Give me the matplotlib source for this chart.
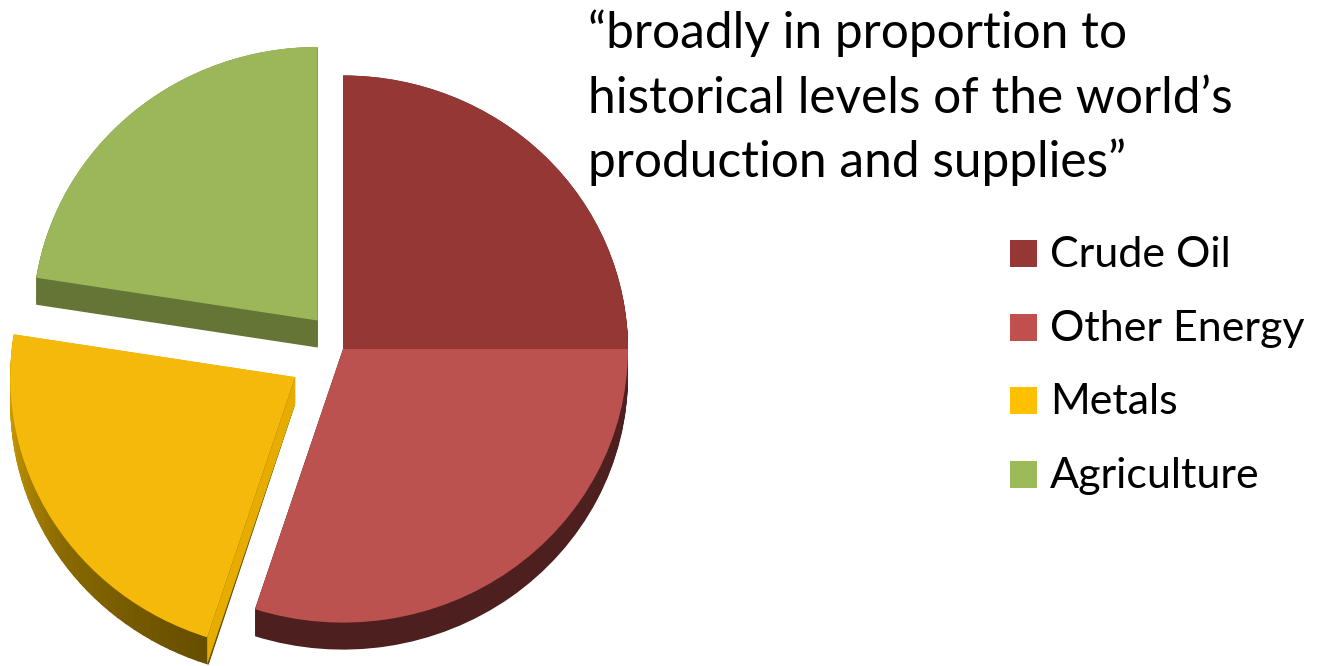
import matplotlib
matplotlib.use('Agg')
import matplotlib.pyplot as plt
import matplotlib.patches as mpatches
import matplotlib.colors as mcolors
import numpy as np

# ---- data ----
categories = ['Crude Oil', 'Other Energy', 'Metals', 'Agriculture']
weights = [25.0, 30.0, 22.5, 22.5]
explode_px = [0, 0, 56, 39]

top_colors = ['#953735', '#BB524F', '#F4B90A', '#9BB75A']
side_colors = ['#5A2120', '#4D1F1F', None, '#647536']
legend_colors = ['#953735', '#C0504D', '#FFC000', '#9BBB59']

title_lines = ['\u201cbroadly in proportion to',
               'historical levels of the world\u2019s',
               'production and supplies\u201d']

# ---- layout (pixels) ----
W, H = 1318, 666
YS = 0.96            # vertical squash of the pie
CX, CY = 343, 349    # pie centre (image px, from top)
R = 285
DEPTH = 27
FONT = ['Lato', 'DejaVu Sans']

fig = plt.figure(figsize=(W / 100, H / 100), dpi=100)
ax = fig.add_axes([0, 0, 1, 1])

cy_data = (H - CY) / YS
wedges, _ = ax.pie(weights, explode=explode_px, colors=top_colors,
                   startangle=90, counterclock=False, radius=R,
                   center=(CX, cy_data), wedgeprops=dict(linewidth=0))
for w in wedges:
    w.set_zorder(5)

ax.set_aspect('auto')
ax.set_xlim(0, W)
ax.set_ylim(0, H / YS)
ax.axis('off')

# ---- extruded sides ----
depth = DEPTH / YS
offsets = np.arange(depth, 0, -1.0)
metal_stops = [(180, '#D6A200'), (215, '#8A6A00'), (252, '#664D00')]


def metal_shade(theta):
    th = theta % 360
    angs = [a for a, _ in metal_stops]
    cols = [np.array(mcolors.to_rgb(c)) for _, c in metal_stops]
    th = np.clip(th, angs[0], angs[-1])
    for k in range(len(angs) - 1):
        if angs[k] <= th <= angs[k + 1]:
            f = (th - angs[k]) / (angs[k + 1] - angs[k])
            return cols[k] * (1 - f) + cols[k + 1] * f
    return cols[-1]


for w, sc in zip(wedges, side_colors):
    cx, cy = w.center
    t1, t2 = w.theta1, w.theta2
    for d in offsets:
        if sc is not None:
            ax.add_patch(mpatches.Wedge((cx, cy - d), w.r, t1, t2,
                                        color=sc, lw=0, zorder=1))
        else:
            edges = np.linspace(t1, t2, 40)
            for a, b in zip(edges[:-1], edges[1:]):
                ax.add_patch(mpatches.Wedge((cx, cy - d), w.r, a, b + 0.3,
                                            color=metal_shade((a + b) / 2),
                                            lw=0, zorder=1))
    if sc is None:
        # flat cut face on the right of the metals slice
        ang = np.deg2rad(t2)
        ex, ey = cx + w.r * np.cos(ang), cy + w.r * np.sin(ang)
        face = [(cx, cy), (ex, ey), (ex, ey - depth), (cx, cy - depth)]
        ax.add_patch(mpatches.Polygon(face, closed=True, color='#E6AC00',
                                      lw=0, zorder=2))

# ---- text ----
renderer = fig.canvas.get_renderer()


def fit_size(s, width_px, start=30):
    t = fig.text(0, 0, s, fontsize=start, family=FONT)
    wpx = t.get_window_extent(renderer).width
    t.remove()
    return start * width_px / wpx


title_size = fit_size(title_lines[1], 644)
for line, base in zip(title_lines, [48, 113, 177]):
    fig.text(588 / W, 1 - base / H, line, fontsize=title_size, family=FONT,
             va='baseline', ha='left', color='black')

leg_size = fit_size('Other Energy', 255)
for i, (lab, col) in enumerate(zip(categories, legend_colors)):
    base = 267 + i * 73.7
    fig.patches.append(mpatches.Rectangle((1010 / W, 1 - base / H), 27 / W, 27 / H,
                                          transform=fig.transFigure, color=col,
                                          lw=0))
    fig.text(1050 / W, 1 - base / H, lab, fontsize=leg_size, family=FONT,
             va='baseline', ha='left', color='black')

fig.savefig('out.png', dpi=100, facecolor='white')
